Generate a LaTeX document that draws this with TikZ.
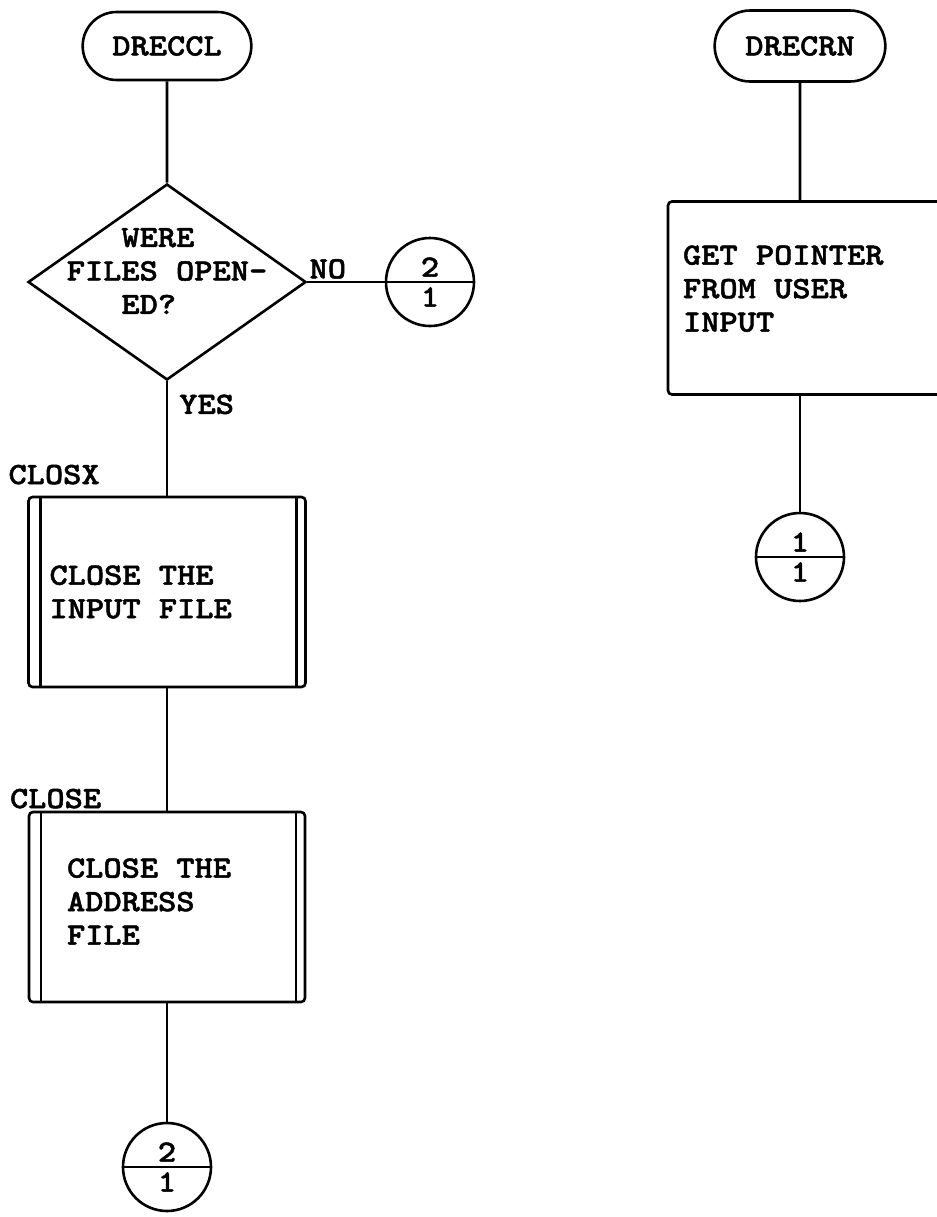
\documentclass[tikz,border=0pt]{standalone}
\usepackage{fontspec}
\newfontfamily\typewr{lmmonolt10-bold.otf}[FakeStretch=1.12, FakeBold=1.5]
\usepackage{tikz}
\usetikzlibrary{positioning, shapes.geometric, shapes.misc, shapes.multipart}

\begin{document}
\begin{tikzpicture}[line width=1.3pt, on grid,
    font=\typewr\fontsize{15.5}{16.75}\selectfont,
    execute at begin node={\spaceskip=\fontdimen2\font\relax},
    term/.style={rounded rectangle, draw, minimum width=91pt, minimum height=34pt},
    decision/.style={diamond, draw, minimum width=139pt, minimum height=98pt, inner sep=0pt},
    conn/.style={circle split, draw, minimum size=44pt, inner sep=2pt},
    proc/.style={rectangle, draw, rounded corners=2pt, align=left},
    subproc/.style={proc, path picture={
        \draw ([xshift=6pt]path picture bounding box.north west) -- ([xshift=6pt]path picture bounding box.south west);
        \draw ([xshift=-4.5pt]path picture bounding box.north east) -- ([xshift=-4.5pt]path picture bounding box.south east);}},
    tag/.style={inner sep=0pt}]
    \useasboundingbox (0,0) rectangle (468.5pt,-608.5pt);

    \node[term] (t1) at (83.5pt,-23pt) {DRECCL};
    \node[decision, below=118pt of t1] (d1) {};
    \node[align=left, yshift=5.5pt] (q1) at (d1) {\ \ \ WERE\\FILES OPEN-\\\ \ \ ED?};
    \node[conn, right=131.5pt of d1] (c1) {2 \nodepart{lower} 1};
    \node[subproc, below=155pt of d1, minimum height=95pt, inner xsep=10.5pt, text width=117.5pt] (b1) {CLOSE THE\\INPUT FILE};
    \node[subproc, below=157.5pt of b1, minimum height=95pt, inner xsep=19pt, text width=100pt] (b2) {CLOSE THE\\ADDRESS\\FILE\\[-11.25pt]\mbox{}};
    \node[conn, below=130pt of b2] (c2) {2 \nodepart{lower} 1};
    \node[tag, anchor=south west] (lx) at ([xshift=-10pt, yshift=5pt]b1.north west) {CLOSX};
    \node[tag, anchor=south west] (lc) at ([xshift=-9.5pt, yshift=0.5pt]b2.north west) {CLOSE};

    \node[term, right=316.5pt of t1, minimum width=92pt, minimum height=35.5pt] (t2) {DRECRN};
    \node[proc, below=126pt of t2, xshift=4pt, minimum height=96.5pt, inner xsep=7.5pt, text width=125pt] (b3) {GET POINTER\\FROM USER\\INPUT\\[-7.25pt]\mbox{}};
    \node[conn, below=255.5pt of t2] (c3) {1 \nodepart{lower} 1};

    \path
        (t1) edge (d1)
        (d1) edge node[tag, pos=0, anchor=south west, xshift=0.5pt, yshift=1pt] (no) {NO} (c1)
        (d1) edge node[tag, pos=0, anchor=north west, xshift=5.5pt, yshift=-6pt] (yes) {YES} (b1)
        (b1) edge (b2)
        (b2) edge (c2)
        (t2) edge (t2 |- b3.north)
        (b3.south -| c3) edge (c3);
\end{tikzpicture}
\end{document}
